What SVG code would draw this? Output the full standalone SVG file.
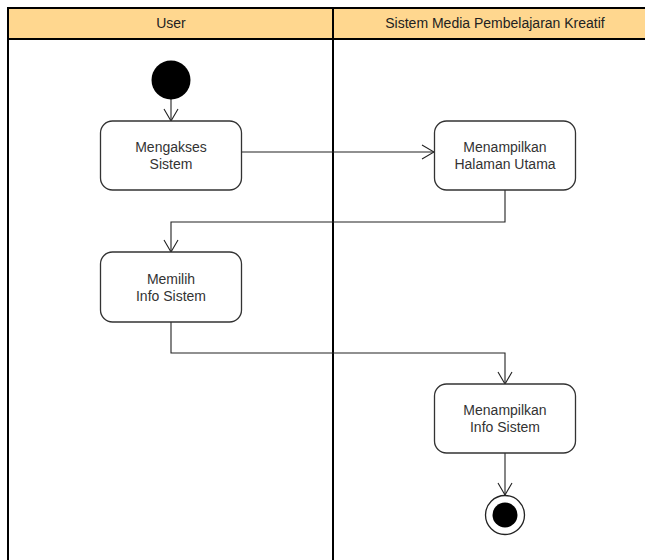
<svg xmlns="http://www.w3.org/2000/svg" width="645" height="560" viewBox="0 0 645 560">
<defs>
<style>
.lane{fill:#ffffff;stroke:#000;stroke-width:2}
.hdr{fill:#ffd78f;stroke:#000;stroke-width:2}
.ht{font-family:"Liberation Sans",Arial,sans-serif;font-size:14px;fill:#222;text-anchor:middle}
.act{fill:#fff;stroke:#333;stroke-width:1.3}
.t{font-family:"Liberation Sans",Arial,sans-serif;font-size:14px;fill:#333;text-anchor:middle}
.c{fill:none;stroke:#222;stroke-width:1.1}
</style>
<marker id="arr" viewBox="0 0 14 16" refX="13" refY="8" markerWidth="14" markerHeight="16" markerUnits="userSpaceOnUse" orient="auto">
<path d="M1,1 L13,8 L1,15" fill="none" stroke="#222" stroke-width="1.1"/>
</marker>
</defs>
<rect width="645" height="560" fill="#fff"/>
<g id="lanes">
<rect class="lane" x="8" y="8" width="325" height="560"/>
<rect class="lane" x="333" y="8" width="330" height="560"/>
<rect class="hdr" x="8" y="8" width="325" height="31"/>
<rect class="hdr" x="333" y="8" width="330" height="31"/>
<text class="ht" x="171" y="28">User</text>
<text class="ht" x="495" y="28">Sistem Media Pembelajaran Kreatif</text>
</g>
<g id="connectors">
<path class="c" d="M171,99 L171,121" marker-end="url(#arr)"/>
<path class="c" d="M241,152 L434,152" marker-end="url(#arr)"/>
<path class="c" d="M505,190 L505,222 L171,222 L171,252" marker-end="url(#arr)"/>
<path class="c" d="M171,322 L171,353 L505,353 L505,384" marker-end="url(#arr)"/>
<path class="c" d="M505,453 L505,495" marker-end="url(#arr)"/>
</g>
<g id="start">
<circle cx="171" cy="80" r="19.5" fill="#000"/>
</g>
<g id="mengakses">
<rect class="act" x="100.5" y="121" width="141" height="69" rx="12"/>
<text class="t" x="171" y="152">Mengakses</text>
<text class="t" x="171" y="169">Sistem</text>
</g>
<g id="halaman">
<rect class="act" x="434.5" y="121" width="141" height="69" rx="12"/>
<text class="t" x="505" y="152">Menampilkan</text>
<text class="t" x="505" y="169">Halaman Utama</text>
</g>
<g id="memilih">
<rect class="act" x="100.5" y="252" width="141" height="70" rx="12"/>
<text class="t" x="171" y="284">Memilih</text>
<text class="t" x="171" y="301">Info Sistem</text>
</g>
<g id="infosistem">
<rect class="act" x="434.5" y="384" width="141" height="69" rx="12"/>
<text class="t" x="505" y="415">Menampilkan</text>
<text class="t" x="505" y="432">Info Sistem</text>
</g>
<g id="end">
<circle cx="505" cy="515" r="19.5" fill="#fff" stroke="#222" stroke-width="1.3"/>
<circle cx="505" cy="515" r="12.5" fill="#000"/>
</g>
</svg>
